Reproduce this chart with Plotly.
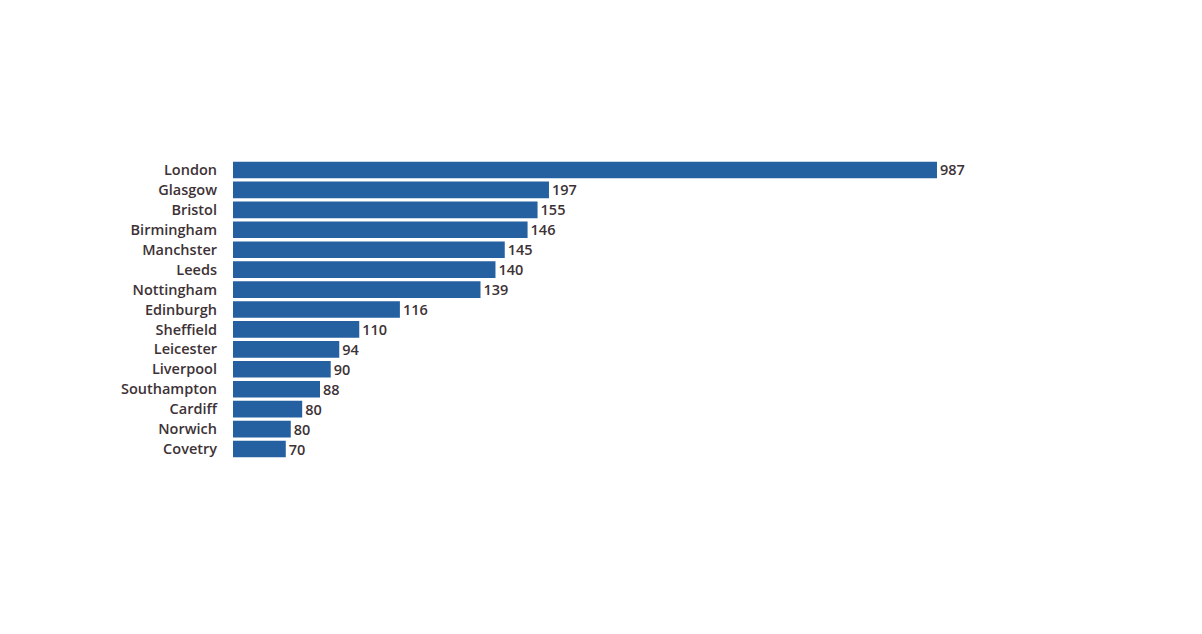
import plotly.graph_objects as go

cities = ["London", "Glasgow", "Bristol", "Birmingham", "Manchster", "Leeds",
          "Nottingham", "Edinburgh", "Sheffield", "Leicester", "Liverpool",
          "Southampton", "Cardiff", "Norwich", "Covetry"]
# bar lengths as drawn (scaled so that London = 987)
bar_lengths = [987, 443, 427, 413, 381, 368, 347, 234, 177, 149, 137, 122, 97, 81, 74]
# printed value labels
value_labels = ["987", "197", "155", "146", "145", "140", "139", "116", "110",
                "94", "90", "88", "80", "80", "70"]

text_color = "#3d3236"
font_family = "Open Sans, Lato, sans-serif"

fig = go.Figure(go.Bar(
    x=bar_lengths,
    y=cities,
    orientation="h",
    marker=dict(color="#2561a0", line=dict(width=0)),
    text=value_labels,
    textposition="outside",
    constraintext="none",
    textfont=dict(color=text_color, size=14.5, family=font_family, weight=600),
    cliponaxis=False,
    hoverinfo="skip",
))

fig.update_layout(
    width=1202, height=634,
    margin=dict(l=233, r=169, t=159.5, b=174.5, pad=0),
    paper_bgcolor="white", plot_bgcolor="white",
    bargap=0.165,
    showlegend=False,
    xaxis=dict(range=[0, 1121.6], visible=False, fixedrange=True),
    yaxis=dict(autorange="reversed", showgrid=False, zeroline=False,
               showline=False, ticks="", ticklabelstandoff=15,
               tickfont=dict(color=text_color, size=14.5, family=font_family, weight=600),
               fixedrange=True),
    font=dict(family=font_family, color=text_color),
)

fig.write_html("out.html")
